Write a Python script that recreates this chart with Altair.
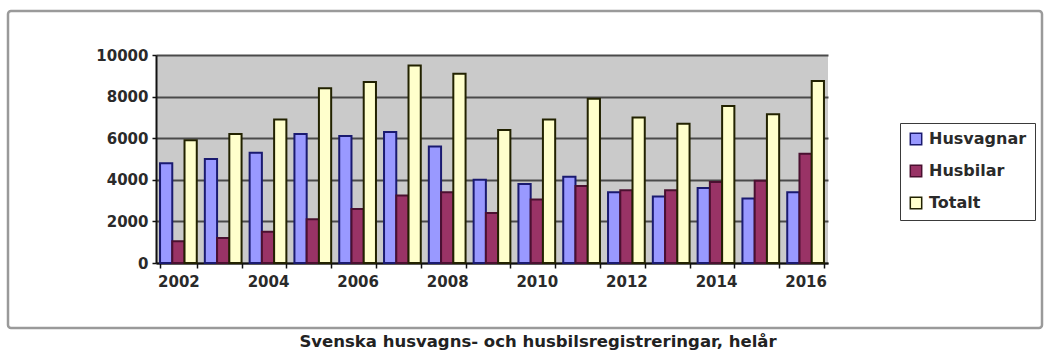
import altair as alt
import pandas as pd

years = list(range(2002, 2017))
series = ["Husvagnar", "Husbilar", "Totalt"]
husvagnar = [4800, 5000, 5300, 6200, 6100, 6300, 5600, 4000, 3800, 4150, 3400, 3200, 3600, 3100, 3400]
husbilar = [1050, 1200, 1500, 2100, 2600, 3250, 3400, 2400, 3050, 3700, 3500, 3500, 3900, 3950, 5250]
totalt = [5900, 6200, 6900, 8400, 8700, 9500, 9100, 6400, 6900, 7900, 7000, 6700, 7550, 7150, 8750]
y_ticks = [0, 2000, 4000, 6000, 8000, 10000]
title_text = "Svenska husvagns- och husbilsregistreringar, helår"

fills = ["#9999ff", "#993366", "#ffffcc"]
strokes = ["#1a1a70", "#4a1030", "#222200"]

rows = []
for name, vals in zip(series, [husvagnar, husbilar, totalt]):
    for yr, v in zip(years, vals):
        rows.append({"year": yr, "series": name, "value": v})
df = pd.DataFrame(rows)

FONT = "DejaVu Sans"

frame = alt.Chart(pd.DataFrame({"a": [0]})).mark_rect(
    fill="transparent", stroke="#9a9a9a", strokeWidth=2.5, cornerRadius=3
).encode(x=alt.value(-148), x2=alt.value(886), y=alt.value(-44), y2=alt.value(273))

bars = alt.Chart(df).mark_bar(strokeWidth=2).encode(
    x=alt.X(
        "year:O",
        scale=alt.Scale(paddingInner=0.18, paddingOuter=0.09),
        axis=alt.Axis(
            title=None, labelAngle=0, tickBand="extent",
            labelExpr="datum.value % 2 == 0 ? datum.label : ''",
            labelFont=FONT, labelFontSize=15, labelFontWeight="bold", labelColor="#2a2a2a",
            labelPadding=6, tickSize=5, tickColor="#111", tickWidth=1.5,
            domainColor="#111", domainWidth=2, grid=False,
        ),
    ),
    xOffset=alt.XOffset("series:N", sort=series, scale=alt.Scale(domain=series, paddingInner=0)),
    y=alt.Y(
        "value:Q",
        scale=alt.Scale(domain=[0, 10000], nice=False),
        axis=alt.Axis(
            title=None, values=y_ticks, format="d",
            labelFont=FONT, labelFontSize=15, labelFontWeight="bold", labelColor="#2a2a2a",
            labelPadding=4, tickSize=4, tickColor="#111", tickWidth=1.5,
            domainColor="#111", domainWidth=2,
            grid=True, gridColor="#4a4a4a", gridWidth=2,
        ),
    ),
    fill=alt.Fill(
        "series:N",
        scale=alt.Scale(domain=series, range=fills),
        legend=alt.Legend(
            title=None, orient="none", legendX=744, legendY=68,
            labelFont=FONT, labelFontSize=16, labelFontWeight="bold", labelColor="#2a2a2a",
            symbolType="square", symbolSize=130, symbolStrokeColor="#222", symbolStrokeWidth=1.5,
            rowPadding=14, labelOffset=5, padding=8,
            strokeColor="#3a3a3a", fillColor="white",
        ),
    ),
    stroke=alt.Stroke("series:N", scale=alt.Scale(domain=series, range=strokes), legend=None),
)

title = alt.Chart(pd.DataFrame({"t": [title_text]})).mark_text(
    font=FONT, fontSize=16.5, fontWeight="bold", color="#222", align="center", baseline="middle"
).encode(x=alt.value(382), y=alt.value(287), text="t:N")

chart = alt.layer(frame, bars, title).properties(
    width=672, height=208,
    padding={"left": 156, "top": 55, "right": 221, "bottom": 93},
    autosize="none",
    background="white",
).configure_view(fill="#cacaca", strokeWidth=0)

chart.save("out.html", embed_options={"renderer": "svg", "actions": False})
